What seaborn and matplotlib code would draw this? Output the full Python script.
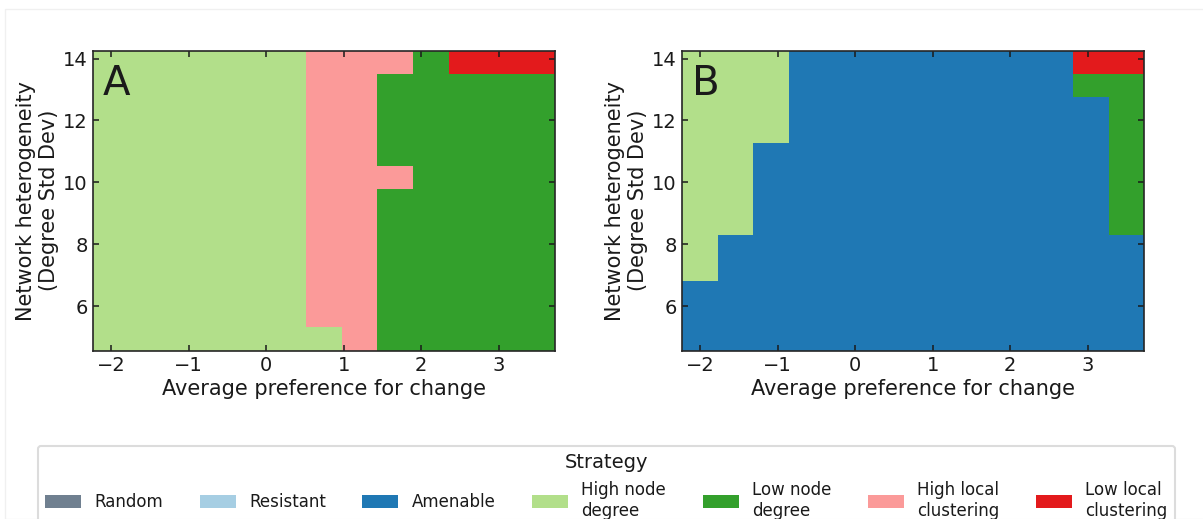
import numpy as np
import pandas as pd
import matplotlib
matplotlib.use("Agg")
import matplotlib.pyplot as plt
from matplotlib.colors import ListedColormap, BoundaryNorm
from matplotlib.patches import Patch, Rectangle
import seaborn as sns

# ---------------- data ----------------
strategies = ["Random", "Resistant", "Amenable", "High node\ndegree",
              "Low node\ndegree", "High local\nclustering", "Low local\nclustering"]
strategy_colors = ["#708090", "#a6cee3", "#1f78b4", "#b2df8a",
                   "#33a02c", "#fb9a99", "#e31a1c"]

# average preference for change (cell centres)
pref_values = [-2.0, -1.542, -1.083, -0.625, -0.167, 0.292, 0.75,
               1.208, 1.667, 2.125, 2.583, 3.042, 3.5]
# network heterogeneity, degree std dev (cell centres)
het_values = [4.93, 5.68, 6.42, 7.17, 7.92, 8.66, 9.41,
              10.15, 10.90, 11.64, 12.39, 13.13, 13.88]

# best strategy index per cell, rows from lowest heterogeneity upward
grid_A = [
    [3, 3, 3, 3, 3, 3, 3, 5, 4, 4, 4, 4, 4],
    [3, 3, 3, 3, 3, 3, 5, 5, 4, 4, 4, 4, 4],
    [3, 3, 3, 3, 3, 3, 5, 5, 4, 4, 4, 4, 4],
    [3, 3, 3, 3, 3, 3, 5, 5, 4, 4, 4, 4, 4],
    [3, 3, 3, 3, 3, 3, 5, 5, 4, 4, 4, 4, 4],
    [3, 3, 3, 3, 3, 3, 5, 5, 4, 4, 4, 4, 4],
    [3, 3, 3, 3, 3, 3, 5, 5, 4, 4, 4, 4, 4],
    [3, 3, 3, 3, 3, 3, 5, 5, 5, 4, 4, 4, 4],
    [3, 3, 3, 3, 3, 3, 5, 5, 4, 4, 4, 4, 4],
    [3, 3, 3, 3, 3, 3, 5, 5, 4, 4, 4, 4, 4],
    [3, 3, 3, 3, 3, 3, 5, 5, 4, 4, 4, 4, 4],
    [3, 3, 3, 3, 3, 3, 5, 5, 4, 4, 4, 4, 4],
    [3, 3, 3, 3, 3, 3, 5, 5, 5, 4, 6, 6, 6],
]
grid_B = [
    [2, 2, 2, 2, 2, 2, 2, 2, 2, 2, 2, 2, 2],
    [2, 2, 2, 2, 2, 2, 2, 2, 2, 2, 2, 2, 2],
    [2, 2, 2, 2, 2, 2, 2, 2, 2, 2, 2, 2, 2],
    [3, 2, 2, 2, 2, 2, 2, 2, 2, 2, 2, 2, 2],
    [3, 2, 2, 2, 2, 2, 2, 2, 2, 2, 2, 2, 2],
    [3, 3, 2, 2, 2, 2, 2, 2, 2, 2, 2, 2, 4],
    [3, 3, 2, 2, 2, 2, 2, 2, 2, 2, 2, 2, 4],
    [3, 3, 2, 2, 2, 2, 2, 2, 2, 2, 2, 2, 4],
    [3, 3, 2, 2, 2, 2, 2, 2, 2, 2, 2, 2, 4],
    [3, 3, 3, 2, 2, 2, 2, 2, 2, 2, 2, 2, 4],
    [3, 3, 3, 2, 2, 2, 2, 2, 2, 2, 2, 2, 4],
    [3, 3, 3, 2, 2, 2, 2, 2, 2, 2, 2, 4, 4],
    [3, 3, 3, 2, 2, 2, 2, 2, 2, 2, 2, 6, 6],
]
panel_letters = ["A", "B"]
x_ticks = [-2, -1, 0, 1, 2, 3]
y_ticks = [6, 8, 10, 12, 14]

# ---------------- style ----------------
sns.set_theme(style="ticks")
plt.rcParams.update({
    "font.family": ["DejaVu Sans"],
    "axes.axisbelow": False,
    "axes.edgecolor": "#262626",
    "text.color": "#1a1a1a",
    "axes.labelcolor": "#1a1a1a",
    "xtick.color": "#1a1a1a",
    "ytick.color": "#1a1a1a",
})

cmap = ListedColormap(strategy_colors)
norm = BoundaryNorm(np.arange(-0.5, len(strategies) + 0.5, 1), cmap.N)

fig = plt.figure(figsize=(12.03, 5.19), dpi=100)
fig.add_artist(Rectangle((5 / 1203, 0), 1.5, 1 - 9 / 519, transform=fig.transFigure,
                         fill=False, edgecolor="#f0f0f0", lw=1))

positions = [[0.0776, 0.3243, 0.3838, 0.578], [0.5672, 0.3243, 0.3838, 0.578]]
for pos, grid, letter in zip(positions, [grid_A, grid_B], panel_letters):
    ax = fig.add_axes(pos)
    mesh = ax.pcolormesh(pref_values, het_values, np.array(grid), cmap=cmap, norm=norm,
                         shading="nearest", zorder=0.2)
    ax.set_axisbelow(False)
    ax.set_xticks(x_ticks)
    ax.set_yticks(y_ticks)
    ax.tick_params(axis="both", which="major", direction="in", top=True, right=True,
                   bottom=True, left=True, labelsize=14, length=4.5, width=1.1,
                   color="#1a1a1a", pad=4)
    ax.set_xlabel("Average preference for change", fontsize=15, labelpad=3)
    ax.set_ylabel("Network heterogeneity\n(Degree Std Dev)", fontsize=15, labelpad=3)
    ax.text(0.02, 0.955, letter, transform=ax.transAxes, fontsize=29,
            va="top", ha="left", zorder=5)
    for s in ax.spines.values():
        s.set_linewidth(1.2)
        s.set_zorder(3)

handles = [Patch(facecolor=c, edgecolor="none", label=l)
           for c, l in zip(strategy_colors, strategies)]
leg = fig.legend(handles=handles, loc="upper center", bbox_to_anchor=(0.504, 1 - 446 / 519),
                 ncol=len(strategies), title="Strategy", fontsize=12, title_fontsize=14,
                 frameon=True, fancybox=True, borderpad=0.45, borderaxespad=0,
                 handlelength=2.15, handleheight=0.85, handletextpad=0.8,
                 columnspacing=2.2)
leg.get_frame().set_edgecolor("#d4d4d4")
leg.get_frame().set_linewidth(1.5)

fig.savefig("out.png", dpi=100)
